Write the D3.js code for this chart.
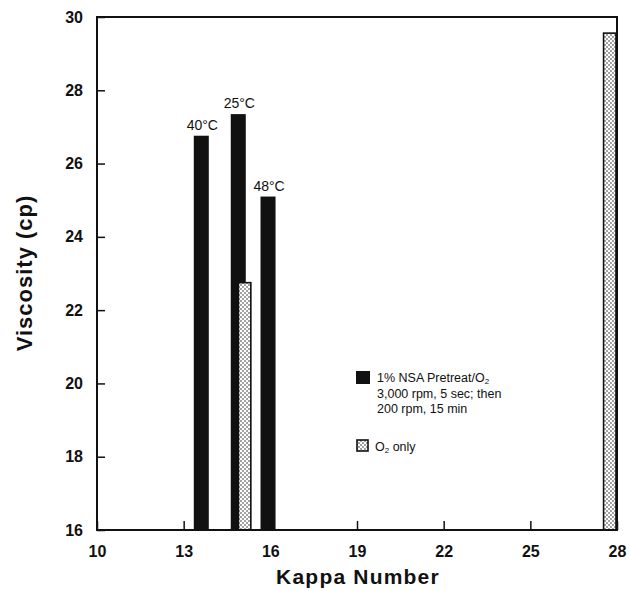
<!DOCTYPE html>
<html><head><meta charset="utf-8">
<script src="https://cdn.jsdelivr.net/npm/d3@7"></script>
<style>body{margin:0;background:#fff;} svg{display:block;font-family:"Liberation Sans",Arial,Helvetica,sans-serif;}</style>
</head><body>
<svg id="c" width="629" height="591"></svg>
<script>
// ---- data ----
const nsaKappa = [13.61, 14.89, 15.92];
const nsaVisc = [26.76, 27.35, 25.10];
const nsaTemps = ["40°C", "25°C", "48°C"];
const o2Kappa = [15.11, 27.75];
const o2Visc = [22.75, 29.56];
const xTicks = [10, 13, 16, 19, 22, 25, 28];
const yTicks = [16, 18, 20, 22, 24, 26, 28, 30];
const legendNsa = ["1% NSA Pretreat/O", "3,000 rpm, 5 sec; then", "200 rpm, 15 min"];
const legendO2 = "only";

// ---- layout ----
const svg = d3.select("#c");
const x = d3.scaleLinear().domain([10, 28]).range([97, 617]);
const y = d3.scaleLinear().domain([16, 30]).range([530, 17]);
const blackW = 0.52, dotW = 0.43;

const defs = svg.append("defs");
const pat = defs.append("pattern").attr("id", "dots").attr("patternUnits", "userSpaceOnUse")
  .attr("width", 4).attr("height", 4);
pat.append("rect").attr("width", 4).attr("height", 4).attr("fill", "#fff");
pat.append("circle").attr("cx", 1).attr("cy", 1).attr("r", 0.9).attr("fill", "#777");
pat.append("circle").attr("cx", 3).attr("cy", 3).attr("r", 0.9).attr("fill", "#777");

// bars NSA
svg.append("g").selectAll("rect").data(nsaKappa).join("rect")
  .attr("x", (d) => x(d - blackW / 2))
  .attr("width", (d) => x(d + blackW / 2) - x(d - blackW / 2))
  .attr("y", (d, i) => y(nsaVisc[i]))
  .attr("height", (d, i) => y(16) - y(nsaVisc[i]))
  .attr("fill", "#111");

// bar labels
svg.append("g").selectAll("text").data(nsaKappa).join("text")
  .attr("x", (d) => x(d) + 1)
  .attr("y", (d, i) => y(nsaVisc[i]) - 6)
  .attr("text-anchor", "middle").attr("font-size", 14).attr("fill", "#111")
  .text((d, i) => nsaTemps[i]);

// bars O2
svg.append("g").selectAll("rect").data(o2Kappa).join("rect")
  .attr("x", (d) => x(d - dotW / 2))
  .attr("width", (d) => x(d + dotW / 2) - x(d - dotW / 2))
  .attr("y", (d, i) => y(o2Visc[i]))
  .attr("height", (d, i) => y(16) - y(o2Visc[i]))
  .attr("fill", "url(#dots)").attr("stroke", "#111").attr("stroke-width", 1.6);

// frame
svg.append("rect").attr("x", x(10)).attr("y", y(30))
  .attr("width", x(28) - x(10)).attr("height", y(16) - y(30))
  .attr("fill", "none").attr("stroke", "#111").attr("stroke-width", 2);

// axes
const yAxis = svg.append("g").attr("transform", `translate(${x(10)},0)`)
  .call(d3.axisLeft(y).tickValues(yTicks).tickSize(-8).tickPadding(14).tickFormat(d3.format("d")));
const xAxis = svg.append("g").attr("transform", `translate(0,${y(16)})`)
  .call(d3.axisBottom(x).tickValues(xTicks).tickSize(-9).tickPadding(16).tickFormat(d3.format("d")));
[yAxis, xAxis].forEach(g => {
  g.select(".domain").remove();
  g.selectAll(".tick line").attr("stroke", "#111").attr("stroke-width", 1.5);
  g.selectAll(".tick text").attr("font-size", 16).attr("font-weight", "bold").attr("fill", "#111")
    .attr("font-family", "'Liberation Sans',Arial,sans-serif");
});

// axis titles
svg.append("text").attr("x", 358).attr("y", 584).attr("text-anchor", "middle")
  .attr("font-size", 21).attr("font-weight", "bold").attr("letter-spacing", 1.2).attr("fill", "#111")
  .text("Kappa Number");
svg.append("text").attr("transform", "translate(32,273) rotate(-90)").attr("text-anchor", "middle")
  .attr("font-size", 22).attr("font-weight", "bold").attr("letter-spacing", 1).attr("fill", "#111")
  .text("Viscosity (cp)");

// legend
const lg = svg.append("g");
lg.append("rect").attr("x", 356).attr("y", 371).attr("width", 14).attr("height", 13).attr("fill", "#111");
legendNsa.forEach((s, i) => {
  const ts = lg.append("text").attr("x", 377).attr("y", 382 + i * 15.5)
    .attr("font-size", 12.5).attr("fill", "#111").text(s);
  if (i === 0) ts.append("tspan").attr("font-size", 8).attr("dy", 2).text("2");
});
lg.append("rect").attr("x", 357).attr("y", 440).attr("width", 11).attr("height", 11)
  .attr("fill", "url(#dots)").attr("stroke", "#111").attr("stroke-width", 1.6);
const o2t = lg.append("text").attr("x", 375).attr("y", 451).attr("font-size", 12.5).attr("fill", "#111").text("O");
o2t.append("tspan").attr("font-size", 8).attr("dy", 2).text("2");
o2t.append("tspan").attr("dy", -2).text(" " + legendO2);
</script>
</body></html>
